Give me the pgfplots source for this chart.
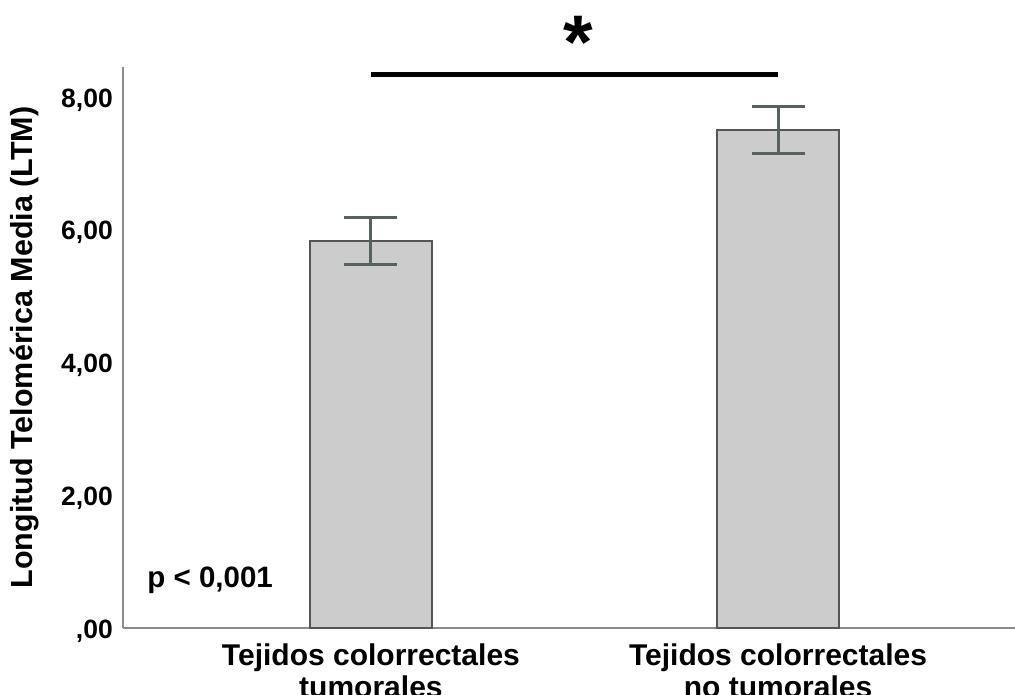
\documentclass[border=0pt]{standalone}
\usepackage{pgfplots}
\pgfplotsset{compat=1.18}
\usepackage{fontspec}
\setmainfont{Liberation Sans}
\definecolor{barfill}{HTML}{CCCCCC}
\definecolor{bardraw}{HTML}{555555}
\definecolor{errcol}{HTML}{56625C}
\definecolor{axcol}{HTML}{8C8C8C}
\begin{document}
\begin{tikzpicture}
\useasboundingbox (-123pt,-67pt) rectangle (892pt,628pt);
\begin{axis}[
  scale only axis,
  width=892pt, height=561pt,
  xmin=0.391, xmax=2.582,
  ymin=0, ymax=8.45,
  axis x line*=bottom, axis y line*=left,
  axis line style={axcol, line width=1.6pt},
  clip=false,
  major tick length=0pt,
  xtick={1,2},
  xticklabels={{Tejidos colorrectales\\tumorales},{Tejidos colorrectales\\no tumorales}},
  xticklabel style={align=center, font=\fontsize{30}{32}\selectfont\bfseries, inner sep=6pt, yshift=-10pt},
  ytick={0,2,4,6,8},
  yticklabels={{\textbf{,00}},{\textbf{2,00}},{\textbf{4,00}},{\textbf{6,00}},{\textbf{8,00}}},
  yticklabel style={font=\fontsize{26.5}{30}\selectfont\bfseries, inner sep=0pt, xshift=-10pt, yshift=-3pt},
  ylabel={Longitud Telomérica Media (LTM)},
  ylabel style={font=\fontsize{30.5}{33}\selectfont\bfseries, at={(axis description cs:-0.1099,0.5)}, anchor=center},
]
\addplot[ybar, bar width=122pt, fill=barfill, draw=bardraw, line width=1.5pt,
  error bars/.cd, y dir=both, y explicit,
  error bar style={line width=3pt, errcol},
  error mark options={rotate=90, mark size=26.5pt, line width=3pt, errcol}]
  coordinates {(1,5.83) +- (0,0.35) (2,7.50) +- (0,0.35)};
\draw[line width=4.5pt, black] (axis cs:1,8.34) -- (axis cs:2,8.34);
\node[font=\fontsize{76}{76}\selectfont\bfseries] at (axis cs:1.51,8.82) {*};
\node[font=\fontsize{29.5}{33}\selectfont\bfseries] at (axis cs:0.605,0.72) {p < 0,001};
\end{axis}
\end{tikzpicture}
\end{document}
